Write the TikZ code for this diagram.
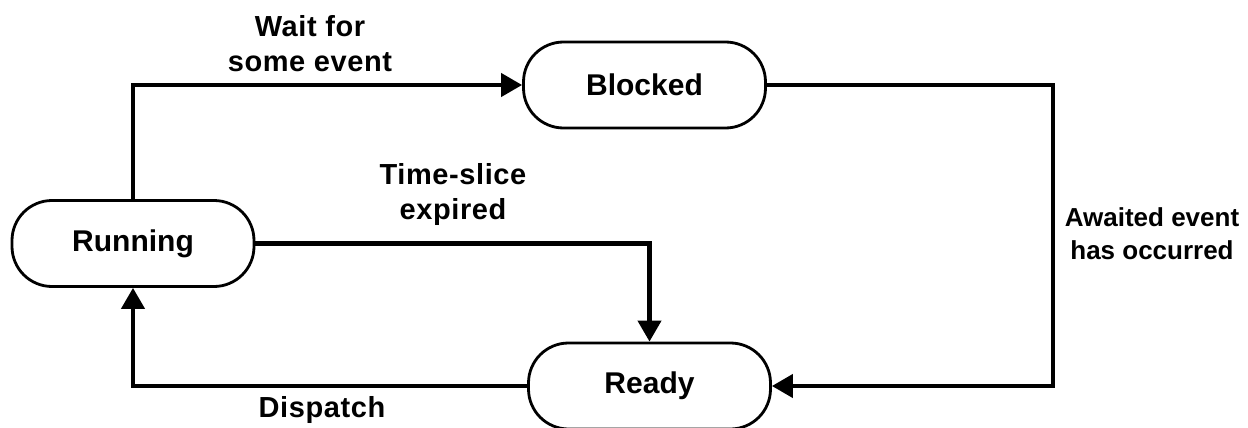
\documentclass[tikz,border=0pt]{standalone}
\usepackage{fontspec}
\setmainfont{Liberation Sans}
\usetikzlibrary{arrows.meta}
\begin{document}
\begin{tikzpicture}[x=1pt,y=-1pt,
  state/.style={draw, line width=2.8pt, rounded corners=40pt,
    minimum width=242pt, minimum height=86pt, inner sep=0pt,
    font=\fontsize{30}{36}\selectfont\bfseries},
  flow/.style={line width=4.2pt, -{Triangle[length=21pt,width=23pt]}},
  lbl/.style={align=center, inner sep=0pt,
    font=\fontsize{29}{35}\selectfont\bfseries\addfontfeature{LetterSpace=2}},
  lbltight/.style={align=center, inner sep=0pt,
    font=\fontsize{26}{33}\selectfont\bfseries}
]
\useasboundingbox (0,0) rectangle (1248,428);

% process states
\node[state] (run) at (133,243.5) {Running};
\node[state] (blk) at (644.5,85) {Blocked};
\node[state] (rdy) at (649.5,386) {Ready};

% turning point of the long return path
\coordinate (bend) at (1053,0);

% transitions
\draw[flow] (run.north) |- (blk.west);
\draw[flow] (run.east) -| (rdy.north);
\draw[flow] (blk.east) -- (blk.east -| bend) -- (rdy.east -| bend) -- (rdy.east);
\draw[flow] (rdy.west) -| (run.south);

% transition labels
\node[lbl] (lwait) at (310,44) {Wait for\\some event};
\node[lbl] (lslice) at (453,195) {Time-slice\\expired};
\node[lbltight] (lawait) at (1152,234) {Awaited event\\has occurred};
\node[lbl] (ldisp) at (322,410) {Dispatch};
\end{tikzpicture}
\end{document}
